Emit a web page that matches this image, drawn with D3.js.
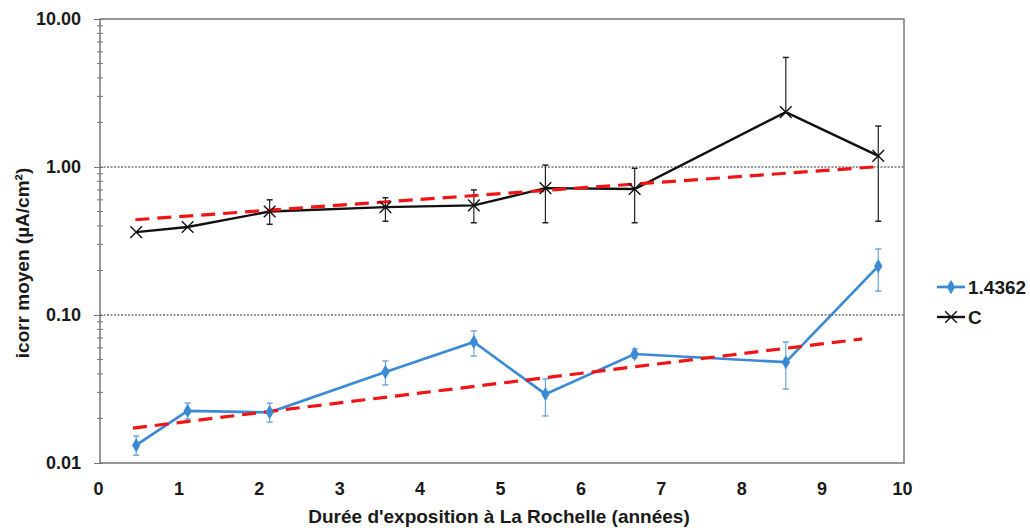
<!DOCTYPE html>
<html>
<head>
<meta charset="utf-8">
<script src="https://cdn.jsdelivr.net/npm/d3@7"></script>
<style>
  body { margin: 0; background: #fff; }
  text { font-family: "Liberation Sans", Arial, sans-serif; font-weight: bold; fill: #1a1a1a; }
</style>
</head>
<body>
<svg id="chart" width="1030" height="528"></svg>
<script>
// Durée d'exposition (années)
const years = [0.45, 1.09, 2.11, 3.55, 4.65, 5.54, 6.65, 8.53, 9.68];

// Série 1.4362 (inox) : valeur, borne haute, borne basse
const steelVals = [0.0132, 0.0225, 0.0220, 0.0412, 0.0657, 0.0292, 0.0545, 0.0480, 0.214];
const steelHigh = [0.0152, 0.0254, 0.0254, 0.0489, 0.0780, 0.0370, 0.0590, 0.0657, 0.279];
const steelLow  = [0.0113, 0.0198, 0.0189, 0.0337, 0.0528, 0.0208, 0.0512, 0.0316, 0.145];

// Série C (acier carbone)
const carbonVals = [0.363, 0.393, 0.500, 0.536, 0.550, 0.720, 0.710, 2.35, 1.19];
const carbonHigh = [0.363, 0.393, 0.600, 0.620, 0.700, 1.03, 0.98, 5.50, 1.89];
const carbonLow  = [0.363, 0.393, 0.410, 0.430, 0.420, 0.42, 0.42, 2.35, 0.43];

// Courbes de tendance (exponentielles) : [x, y] aux extrémités
const steelTrend = [[0.41, 0.0172], [9.48, 0.0689]];
const carbonTrend = [[0.44, 0.44], [9.62, 1.0]];

const xTicks = [0, 1, 2, 3, 4, 5, 6, 7, 8, 9, 10];
const yTicks = [0.01, 0.1, 1, 10];
const gridValues = [0.1, 1];

const seriesNames = ["1.4362", "C"];

// Dimensions
const margin = { top: 19, left: 100, right: 126, bottom: 65 },
  width = 1030 - margin.left - margin.right,
  height = 528 - margin.top - margin.bottom;

const svg = d3.select("#chart");
const g = svg.append("g").attr("transform", "translate(" + margin.left + "," + margin.top + ")");

const x = d3.scaleLinear().domain([0, 10]).range([0, width]);
const y = d3.scaleLog().domain([0.01, 10]).range([height, 0]);

const blue = "#3b8bd4";
const blueLight = "#6ea6dc";

// Quadrillage pointillé
g.selectAll(".grid")
  .data(gridValues)
  .enter()
  .append("line")
  .attr("x1", 0).attr("x2", width)
  .attr("y1", d => y(d)).attr("y2", d => y(d))
  .attr("stroke", "#333")
  .attr("stroke-width", 1)
  .attr("stroke-dasharray", "2,1.5");

// Graduations mineures
const minor = [];
[0.01, 0.1, 1].forEach(base => {
  for (let k = 2; k <= 9; k++) minor.push(base * k);
});
g.selectAll(".minor")
  .data(minor)
  .enter()
  .append("line")
  .attr("x1", -3).attr("x2", 3)
  .attr("y1", d => y(d)).attr("y2", d => y(d))
  .attr("stroke", "#777")
  .attr("stroke-width", 1);

// Axe Y
const yAxis = d3.axisLeft(y)
  .tickValues(yTicks)
  .tickFormat(d3.format(".2f"))
  .tickSize(6)
  .tickSizeOuter(0);
const yg = g.append("g").call(yAxis);
yg.select(".domain").remove();
yg.selectAll(".tick line").attr("stroke", "#777").attr("x2", 3).attr("x1", -6);
yg.selectAll(".tick text")
  .attr("x", -19)
  .style("font-size", "18px")
  .style("font-family", "Liberation Sans, Arial, sans-serif")
  .style("font-weight", "bold")
  .attr("fill", "#1a1a1a");

// Axe X
const xAxis = d3.axisBottom(x).tickValues(xTicks).tickSize(0).tickSizeOuter(0);
const xg = g.append("g").attr("transform", "translate(0," + height + ")").call(xAxis);
xg.select(".domain").remove();
xg.selectAll(".tick text")
  .attr("dy", "1.6em")
  .attr("dx", -2)
  .style("font-size", "18px")
  .style("font-family", "Liberation Sans, Arial, sans-serif")
  .style("font-weight", "bold")
  .attr("fill", "#1a1a1a");

// Cadre
g.append("rect")
  .attr("width", width).attr("height", height)
  .attr("fill", "none")
  .attr("stroke", "#777")
  .attr("stroke-width", 1.5);

// Barres d'erreur
function errorBars(vals, hi, lo, color, cls) {
  const data = years.map((d, i) => ({ x: d, v: vals[i], h: hi[i], l: lo[i] }))
    .filter(d => d.h > d.v || d.l < d.v);
  const eb = g.selectAll("." + cls).data(data).enter().append("g").attr("class", cls);
  eb.append("line")
    .attr("x1", d => x(d.x)).attr("x2", d => x(d.x))
    .attr("y1", d => y(d.h)).attr("y2", d => y(d.l))
    .attr("stroke", color).attr("stroke-width", 1.2);
  eb.filter(d => d.h > d.v).append("line")
    .attr("x1", d => x(d.x) - 3).attr("x2", d => x(d.x) + 3)
    .attr("y1", d => y(d.h)).attr("y2", d => y(d.h))
    .attr("stroke", color).attr("stroke-width", 1.5);
  eb.filter(d => d.l < d.v).append("line")
    .attr("x1", d => x(d.x) - 3).attr("x2", d => x(d.x) + 3)
    .attr("y1", d => y(d.l)).attr("y2", d => y(d.l))
    .attr("stroke", color).attr("stroke-width", 1.5);
}
errorBars(carbonVals, carbonHigh, carbonLow, "#222", "ebC");
errorBars(steelVals, steelHigh, steelLow, blueLight, "ebS");

const line = d3.line().x(d => x(d[0])).y(d => y(d[1]));

// Séries
const steelPts = years.map((d, i) => [d, steelVals[i]]);
const carbonPts = years.map((d, i) => [d, carbonVals[i]]);

g.append("path").datum(carbonPts)
  .attr("d", line).attr("fill", "none")
  .attr("stroke", "#111").attr("stroke-width", 2.4);

g.append("path").datum(steelPts)
  .attr("d", line).attr("fill", "none")
  .attr("stroke", blue).attr("stroke-width", 2.7);

// Tendances
[steelTrend, carbonTrend].forEach(t => {
  g.append("path").datum(t)
    .attr("d", line).attr("fill", "none")
    .attr("stroke", "#f01414").attr("stroke-width", 3.2)
    .attr("stroke-dasharray", "14,8");
});

// Marqueurs
const diamond = d3.symbol().type(d3.symbolDiamond).size(60);
g.selectAll(".mS").data(steelPts).enter().append("path")
  .attr("transform", d => "translate(" + x(d[0]) + "," + y(d[1]) + ")")
  .attr("d", diamond)
  .attr("fill", blue);

const cross = d3.symbol().type(d3.symbolX).size(90);
g.selectAll(".mC").data(carbonPts).enter().append("path")
  .attr("transform", d => "translate(" + x(d[0]) + "," + y(d[1]) + ")")
  .attr("d", cross)
  .attr("fill", "none")
  .attr("stroke", "#111")
  .attr("stroke-width", 1.4);

// Légende
const legend = svg.append("g").attr("transform", "translate(937,287)");
const leg1 = legend.append("g");
leg1.append("line").attr("x1", 0).attr("x2", 28).attr("y1", 0).attr("y2", 0)
  .attr("stroke", blue).attr("stroke-width", 2.7);
leg1.append("path").attr("transform", "translate(14,0)").attr("d", diamond).attr("fill", blue);
leg1.append("text").attr("x", 31).attr("y", 0).attr("dy", "0.35em")
  .style("font-size", "19px").text(seriesNames[0]);

const leg2 = legend.append("g").attr("transform", "translate(0,30)");
leg2.append("line").attr("x1", 0).attr("x2", 28).attr("y1", 0).attr("y2", 0)
  .attr("stroke", "#111").attr("stroke-width", 2.4);
leg2.append("path").attr("transform", "translate(14,0)").attr("d", cross)
  .attr("fill", "none").attr("stroke", "#111").attr("stroke-width", 1.4);
leg2.append("text").attr("x", 31).attr("y", 0).attr("dy", "0.35em")
  .style("font-size", "19px").text(seriesNames[1]);

// Titres des axes
svg.append("text")
  .attr("x", margin.left + width / 2 - 3)
  .attr("y", 523)
  .attr("text-anchor", "middle")
  .style("font-size", "19px")
  .text("Durée d'exposition à La Rochelle (années)");

svg.append("text")
  .attr("transform", "translate(29," + (margin.top + height / 2 + 22) + ") rotate(-90)")
  .attr("text-anchor", "middle")
  .style("font-size", "19px")
  .text("icorr moyen (µA/cm²)");
</script>
</body>
</html>
